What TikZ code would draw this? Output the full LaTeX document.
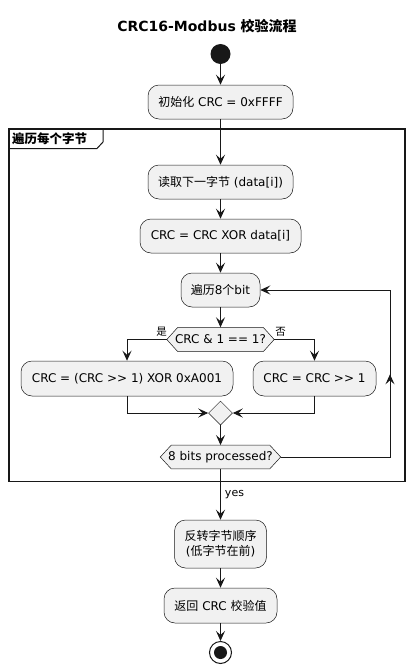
\documentclass[tikz,border=0pt]{standalone}
\usepackage{fontspec}
\setmainfont{DejaVu Sans}
\newfontfamily\cjk{Noto Sans CJK SC}
\usetikzlibrary{arrows.meta,shapes.geometric,decorations.markings,calc}
\definecolor{lineC}{HTML}{181818}
\definecolor{boxF}{HTML}{F1F1F1}
\begin{document}
\begin{tikzpicture}[x=1pt,y=-1pt,
  tip/.tip={Stealth[length=10pt,width=9pt,inset=4pt]},
  act/.style={draw=lineC, fill=boxF, line width=0.5pt, rounded corners=11pt, minimum height=34pt, inner sep=0pt, font=\fontsize{12}{15}\selectfont, text=black, align=center},
  conn/.style={draw=lineC, line width=1pt, -tip},
  hexb/.style={draw=lineC, fill=boxF, line width=0.5pt},
  hext/.style={inner sep=0pt, minimum height=24pt, font=\fontsize{12}{14}\selectfont},
  lbl/.style={font=\fontsize{11}{13}\selectfont, inner sep=1pt},
  zlbl/.style={font=\cjk\fontsize{10.5}{12}\selectfont, inner sep=0pt}
]
\useasboundingbox (0,0) rectangle (414,669);
\node[font=\bfseries\fontsize{14}{16}\selectfont] (title) at (207,26) {CRC16-Modbus {\cjk\bfseries 校验流程}};

% frame
\draw[draw=lineC, line width=1.5pt] (9,129) rectangle (405,481.5);
\draw[draw=lineC, line width=1pt] (9,148.5) -- (97,148.5) -- (103,142) -- (103,129);
\node[font=\cjk\bfseries\fontsize{12.5}{14}\selectfont, anchor=west, inner sep=0pt] (frl) at (12,139) {遍历每个字节};

% start
\node[circle, fill=lineC, minimum size=20pt, inner sep=0pt] (start) at (220.5,54) {};

% actions
\node[act, minimum width=145pt] (b1) at (220.5,102) {{\cjk 初始化} CRC = 0xFFFF};
\node[act, minimum width=145pt] (b2) at (220.5,182) {{\cjk 读取下一字节} (data[i])};
\node[act, minimum width=161pt] (b3) at (220.5,236) {CRC = CRC XOR data[i]};
\node[act, minimum width=79pt] (b4) at (220.5,290) {{\cjk 遍历}8{\cjk 个}bit};

% decision 1
\node[hext, minimum width=85pt] (d1) at (220.5,339.5) {};
\draw[hexb] (d1.north west) -- (d1.north east) -- ($(d1.east)+(11,0)$) coordinate (d1r)
  -- (d1.south east) -- (d1.south west) -- ($(d1.west)+(-11,0)$) coordinate (d1l) -- cycle;
\node[hext] (d1t) at (d1.center) {CRC \& 1 == 1?};

\node[act, minimum width=212pt, minimum height=35pt] (b5) at (127,378.5) {CRC = (CRC >{}> 1) XOR 0xA001};
\node[act, minimum width=123pt, minimum height=35pt] (b6) at (314.5,378.5) {CRC = CRC >{}> 1};

\node[diamond, draw=lineC, fill=boxF, line width=0.5pt, minimum width=24pt, minimum height=24pt, inner sep=0pt] (m) at (220.5,413) {};

% decision 2
\node[hext, minimum width=98pt, minimum height=23.5pt] (d2) at (220.5,457) {};
\draw[hexb] (d2.north west) -- (d2.north east) -- ($(d2.east)+(11,0)$) coordinate (d2r)
  -- (d2.south east) -- (d2.south west) -- ($(d2.west)+(-11,0)$) coordinate (d2l) -- cycle;
\node[hext, minimum height=23.5pt] (d2t) at (d2.center) {8 bits processed?};

\node[act, minimum width=92pt, minimum height=48pt] (b7) at (220.5,544) {{\cjk 反转字节顺序}\\({\cjk 低字节在前})};
\node[act, minimum width=113pt, minimum height=35pt] (b8) at (220.5,605.5) {{\cjk 返回} CRC {\cjk 校验值}};

% end
\node[circle, draw=lineC, line width=1pt, fill=white, minimum size=22pt, inner sep=0pt] (end) at (220.5,652.5) {};
\node[circle, fill=lineC, minimum size=13pt, inner sep=0pt] (endin) at (end) {};

\coordinate (lp1) at (390,457);
\coordinate (lp2) at (390,290);

% connectors
\draw[conn] (start) -- (b1);
\draw[conn] (b1) -- (b2);
\draw[conn] (b2) -- (b3);
\draw[conn] (b3) -- (b4);
\draw[conn] (b4) -- (d1);
\draw[conn] (d1l) -| (b5);
\draw[conn] (d1r) -| (b6);
\draw[conn] (b5) |- (m);
\draw[conn] (b6) |- (m);
\draw[conn] (m) -- (d2);
\draw[conn, postaction={decorate}, decoration={markings, mark=at position 192pt with {\arrow{tip}}}] (d2r) -- (lp1) -- (lp2) -- (b4);
\draw[conn] (d2) -- (b7);
\draw[conn] (b7) -- (b8);
\draw[conn] (b8) -- (end);

% labels
\node[zlbl] (yes1) at (161.5,332) {是};
\node[zlbl] (no1) at (280.5,332) {否};
\node[lbl] (yes2) at (234.5,494.5) {yes};
\end{tikzpicture}
\end{document}
